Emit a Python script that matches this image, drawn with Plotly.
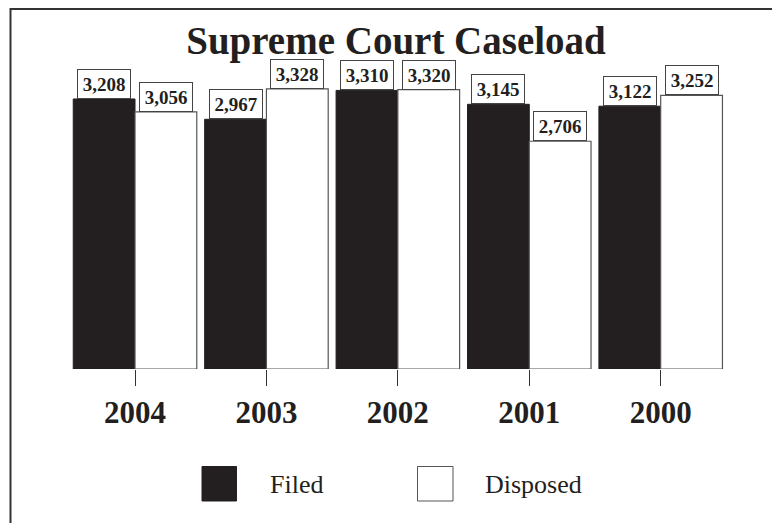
import plotly.graph_objects as go

years = ["2004", "2003", "2002", "2001", "2000"]
filed = [3208, 2967, 3310, 3145, 3122]
disposed = [3056, 3328, 3320, 2706, 3252]
series_names = ["Filed", "Disposed"]
title_text = "Supreme Court Caseload"

W, H = 780, 523
OFF = 8  # page body margin offset
FONT = "Liberation Serif, Times New Roman, serif"
INK = "#231f20"
BARGAP = 0.06

def px_x(p):
    return (p - OFF) / W

def px_y(p):
    return 1 - (p - OFF) / H

fig = go.Figure()
fig.add_trace(go.Bar(x=years, y=filed, name=series_names[0],
                     marker=dict(color=INK, line=dict(color=INK, width=1))))
fig.add_trace(go.Bar(x=years, y=disposed, name=series_names[1],
                     marker=dict(color="white", line=dict(color="#555555", width=1.2))))

off = (1 - BARGAP) / 4
annotations = []
for i, y in enumerate(years):
    for vals, dx in ((filed, -off), (disposed, off)):
        annotations.append(dict(
            x=i + dx, y=vals[i], xref="x", yref="y",
            text=f"<b>{vals[i]:,}</b>", showarrow=False,
            yanchor="bottom", xanchor="center",
            width=46, height=22, align="center", valign="middle",
            font=dict(family=FONT, size=19, color=INK),
            bgcolor="white", bordercolor="#444444", borderwidth=1, borderpad=3,
        ))

shapes = [
    dict(type="rect", xref="paper", yref="paper",
         x0=px_x(10.5), x1=px_x(779), y0=px_y(560), y1=px_y(9),
         line=dict(color="#333333", width=2), fillcolor="rgba(0,0,0,0)", layer="above"),
    dict(type="rect", xref="paper", yref="paper",
         x0=px_x(202), x1=px_x(236.5), y0=px_y(501), y1=px_y(466.5),
         line=dict(color=INK, width=1), fillcolor=INK),
    dict(type="rect", xref="paper", yref="paper",
         x0=px_x(417.5), x1=px_x(453), y0=px_y(501), y1=px_y(466.5),
         line=dict(color="#555555", width=1), fillcolor="white"),
]
annotations.append(dict(x=px_x(268), y=px_y(484), xref="paper", yref="paper",
                        text=series_names[0], showarrow=False, xanchor="left", yanchor="middle",
                        font=dict(family=FONT, size=26, color=INK)))
annotations.append(dict(x=px_x(483), y=px_y(484), xref="paper", yref="paper",
                        text=series_names[1], showarrow=False, xanchor="left", yanchor="middle",
                        font=dict(family=FONT, size=26, color=INK)))

fig.update_layout(
    width=W, height=H,
    margin=dict(l=0, r=0, t=0, b=0),
    paper_bgcolor="white", plot_bgcolor="white",
    barmode="group", bargap=BARGAP, bargroupgap=0,
    showlegend=False,
    title=dict(text=f"<b>{title_text}</b>", x=px_x(396), xanchor="center",
               y=px_y(40), yanchor="middle", yref="container",
               font=dict(family=FONT, size=39, color=INK)),
    xaxis=dict(type="category", domain=[px_x(69.3), px_x(726.4)], range=[-0.5, 4.5],
               showgrid=False, showline=False, zeroline=False,
               ticks="outside", ticklen=16, tickwidth=1, tickcolor="#333333",
               tickfont=dict(family=FONT, size=31, color=INK),
               tickprefix="<b>", ticksuffix="</b>"),
    yaxis=dict(domain=[px_y(369), px_y(66)], range=[0, 3600],
               visible=False, showgrid=False, zeroline=False),
    shapes=shapes,
    annotations=annotations,
)

fig.write_html("out.html")
